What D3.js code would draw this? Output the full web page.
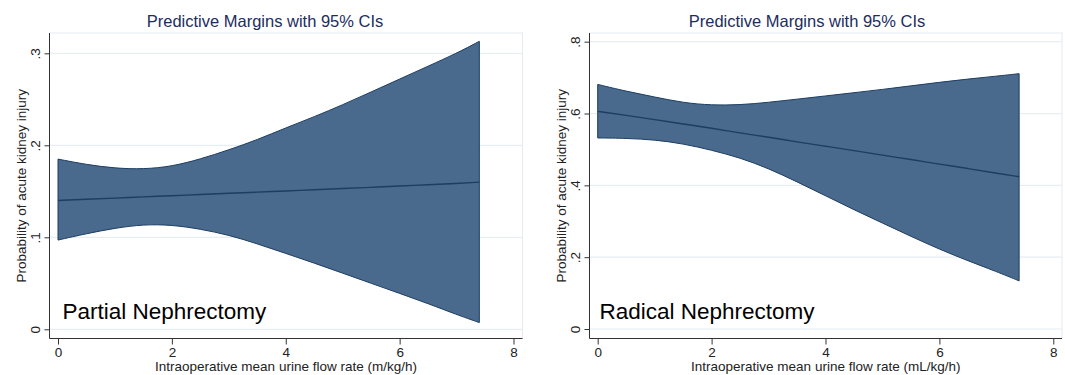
<!DOCTYPE html>
<html>
<head>
<meta charset="utf-8">
<script src="https://cdn.jsdelivr.net/npm/d3@7"></script>
<style>
  body { margin: 0; background: #fff; }
  svg { display: block; font-family: "Liberation Sans", Arial, sans-serif; }
</style>
</head>
<body>
<div id="graph"></div>
<script>
var flowRate = [0, 0.5, 1, 1.5, 2, 2.5, 3, 3.5, 4, 4.5, 5, 5.5, 6, 6.5, 7, 7.4];

// partial nephrectomy
var partialMargin = [0.1400, 0.1413, 0.1426, 0.1439, 0.1452, 0.1465, 0.1478, 0.1491, 0.1504, 0.1517, 0.1530, 0.1543, 0.1557, 0.1571, 0.1585, 0.1600];
var partialUpper  = [0.185, 0.179, 0.175, 0.174, 0.177, 0.185, 0.195, 0.206, 0.219, 0.231, 0.244, 0.258, 0.272, 0.286, 0.300, 0.313];
var partialLower  = [0.097, 0.104, 0.110, 0.114, 0.1135, 0.109, 0.1025, 0.093, 0.0825, 0.072, 0.061, 0.050, 0.039, 0.028, 0.016, 0.0073];

// radical nephrectomy
var radicalMargin = [0.606, 0.595, 0.583, 0.571, 0.559, 0.546, 0.534, 0.521, 0.509, 0.497, 0.484, 0.472, 0.459, 0.447, 0.434, 0.424];
var radicalUpper  = [0.681, 0.662, 0.646, 0.630, 0.623, 0.624, 0.631, 0.640, 0.649, 0.658, 0.667, 0.677, 0.687, 0.696, 0.704, 0.711];
var radicalLower  = [0.532, 0.531, 0.527, 0.516, 0.498, 0.477, 0.447, 0.410, 0.371, 0.332, 0.295, 0.258, 0.222, 0.190, 0.160, 0.134];

var xTicks = [0, 2, 4, 6, 8];
var partialYTicks = [0, 0.1, 0.2, 0.3];
var radicalYTicks = [0, 0.2, 0.4, 0.6, 0.8];

var titleText = "Predictive Margins with 95% CIs";
var yTitle = "Probability of acute kidney injury";

var svg = d3.select("#graph")
    .append("svg")
    .attr("width", 1065)
    .attr("height", 375);

// stata style: ".3" instead of "0.3"
function stataFmt(d) {
    if (d === 0) return "0";
    return d3.format(".1f")(d).replace(/^0/, "");
}

function drawPanel(p) {
    var g = svg.append("g");

    var x = d3.scaleLinear().domain([0, 8]).range([p.x0, p.x8]);
    var y = d3.scaleLinear().domain([0, p.yMax]).range([p.y0, p.yTop]);

    // plot region frame
    g.append("rect")
        .attr("x", p.left).attr("y", p.top)
        .attr("width", p.right - p.left).attr("height", p.bottom - p.top)
        .attr("fill", "#fff")
        .attr("stroke", "#e3ebf0");

    // gridlines
    g.selectAll(".grid")
        .data(p.yTicks)
        .enter()
        .append("line")
        .attr("x1", p.left).attr("x2", p.right)
        .attr("y1", function(d) { return y(d); })
        .attr("y2", function(d) { return y(d); })
        .attr("stroke", "#e6eef2")
        .attr("stroke-width", 1.2);

    var rows = flowRate.map(function(f, i) {
        return { x: f, m: p.margin[i], lo: p.lower[i], hi: p.upper[i] };
    });

    var band = d3.area()
        .x(function(d) { return x(d.x); })
        .y0(function(d) { return y(d.lo); })
        .y1(function(d) { return y(d.hi); })
        .curve(d3.curveBasis);

    g.append("path")
        .datum(rows)
        .attr("d", band)
        .attr("fill", "#496a8c")
        .attr("stroke", "#1d3d62")
        .attr("stroke-width", 1);

    var line = d3.line()
        .x(function(d) { return x(d.x); })
        .y(function(d) { return y(d.m); })
        .curve(d3.curveBasis);

    g.append("path")
        .datum(rows)
        .attr("d", line)
        .attr("fill", "none")
        .attr("stroke", "#1d3d62")
        .attr("stroke-width", 1.4);

    // y axis
    g.append("g")
        .attr("transform", "translate(" + p.left + ",0)")
        .call(d3.axisLeft(y).tickValues(p.yTicks).tickFormat(stataFmt).tickSize(5))
        .call(function(a) { a.select(".domain").remove(); })
        .call(function(a) {
            a.selectAll(".tick line").attr("stroke", "#333");
            a.selectAll(".tick text")
                .attr("x", null)
                .attr("transform", "translate(-14.5,0) rotate(-90)")
                .attr("text-anchor", "middle")
                .attr("dy", "0.35em")
                .attr("fill", "#222")
                .style("font-size", "13.5px")
                .style("font-family", "Liberation Sans, Arial, sans-serif");
        });

    // x axis
    g.append("g")
        .attr("transform", "translate(0," + p.bottom + ")")
        .call(d3.axisBottom(x).tickValues(xTicks).tickFormat(d3.format("d")).tickSize(6))
        .call(function(a) { a.select(".domain").remove(); })
        .call(function(a) {
            a.selectAll(".tick line").attr("stroke", "#333");
            a.selectAll(".tick text")
                .attr("y", 9)
                .attr("dy", "0.71em")
                .attr("fill", "#222")
                .style("font-size", "13.5px")
                .style("font-family", "Liberation Sans, Arial, sans-serif");
        });

    // axis lines
    g.append("line")
        .attr("x1", p.left).attr("x2", p.left)
        .attr("y1", p.top).attr("y2", p.bottom)
        .attr("stroke", "#333");
    g.append("line")
        .attr("x1", p.left).attr("x2", p.right)
        .attr("y1", p.bottom).attr("y2", p.bottom)
        .attr("stroke", "#333");

    // titles
    g.append("text")
        .attr("x", p.titleX).attr("y", 26.5)
        .attr("text-anchor", "middle")
        .attr("fill", "#1c2d5e")
        .style("font-size", "16.5px")
        .text(titleText);

    g.append("text")
        .attr("transform", "translate(" + (p.left - 28) + "," + ((p.top + p.bottom) / 2) + ") rotate(-90)")
        .attr("text-anchor", "middle")
        .attr("dy", "0.35em")
        .attr("fill", "#222")
        .style("font-size", "13.5px")
        .text(yTitle);

    g.append("text")
        .attr("x", (p.left + p.right) / 2).attr("y", 371)
        .attr("text-anchor", "middle")
        .attr("fill", "#222")
        .style("font-size", "13.5px")
        .text(p.xTitle);

    g.append("text")
        .attr("x", p.labelX).attr("y", 319)
        .attr("fill", "#000")
        .style("font-size", "22.5px")
        .text(p.label);
}

drawPanel({
    left: 49.5, right: 522.5, top: 33, bottom: 338.5,
    x0: 58, x8: 513.5, y0: 329.3, yTop: 53.3, yMax: 0.3,
    yTicks: partialYTicks,
    margin: partialMargin, upper: partialUpper, lower: partialLower,
    titleX: 265, labelX: 62.5,
    xTitle: "Intraoperative mean urine flow rate (m/kg/h)",
    label: "Partial Nephrectomy"
});

drawPanel({
    left: 589.5, right: 1062, top: 33, bottom: 338.5,
    x0: 597.7, x8: 1053.3, y0: 329, yTop: 41.7, yMax: 0.8,
    yTicks: radicalYTicks,
    margin: radicalMargin, upper: radicalUpper, lower: radicalLower,
    titleX: 807, labelX: 599.5,
    xTitle: "Intraoperative mean urine flow rate (mL/kg/h)",
    label: "Radical Nephrectomy"
});
</script>
</body>
</html>
